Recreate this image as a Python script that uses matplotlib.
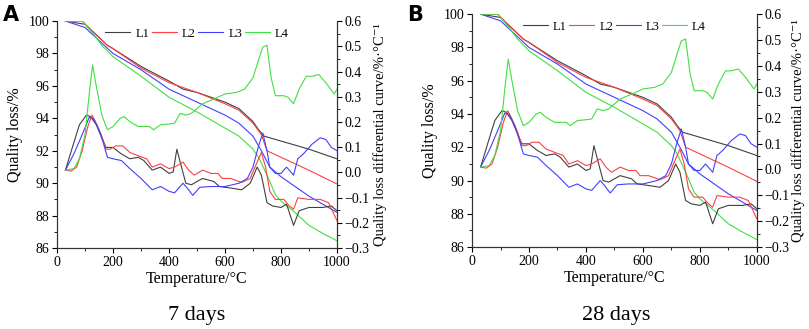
import matplotlib
matplotlib.use('Agg')
import matplotlib.pyplot as plt
from matplotlib.ticker import MultipleLocator, AutoMinorLocator

plt.rcParams['font.family'] = ['Liberation Serif', 'DejaVu Serif']

# TG curves (left axis, quality loss %)
t_l1 = [30, 100, 150, 180, 200, 300, 400, 450, 500, 600, 650, 700, 720, 740, 760, 800, 900, 1000]
tg_l1 = [100, 99.8, 99.0, 98.5, 98.3, 97.2, 96.3, 95.8, 95.6, 95.0, 94.6, 93.8, 93.3, 92.9, 92.8, 92.6, 92.1, 91.5]
t_l2 = [30, 90, 130, 180, 200, 300, 400, 450, 500, 600, 650, 700, 730, 750, 800, 900, 1000]
tg_l2 = [100, 100, 99.3, 98.5, 98.3, 97.1, 96.2, 95.9, 95.6, 94.9, 94.5, 93.7, 93.0, 92.0, 91.6, 90.8, 89.95]
t_l3 = [30, 100, 150, 200, 300, 400, 500, 600, 650, 700, 730, 760, 800, 900, 1000]
tg_l3 = [100, 99.6, 98.8, 98.0, 97.0, 95.8, 95.0, 94.2, 93.7, 92.9, 92.0, 91.0, 90.4, 89.2, 88.2]
t_l4 = [30, 90, 130, 160, 200, 300, 400, 500, 600, 650, 700, 720, 750, 780, 800, 850, 900, 950, 1000]
tg_l4 = [100, 100, 99.2, 98.5, 97.8, 96.6, 95.3, 94.4, 93.4, 92.9, 92.1, 91.6, 90.5, 89.3, 88.9, 88.2, 87.4, 86.9, 86.45]

# DTG curves (right axis, %/°C)
d_t1 = [30, 60, 80, 105, 120, 140, 160, 175, 200, 230, 260, 290, 310, 340, 370, 400, 415, 428, 440, 460,
        480, 500, 520, 560, 580, 620, 660, 690, 715, 730, 750, 770, 800, 820, 845, 865, 900, 950, 980, 1000]
dtg_l1 = [0.009, 0.118, 0.189, 0.227, 0.221, 0.189, 0.137, 0.099, 0.099, 0.073, 0.054, 0.060, 0.047, 0.009,
          0.021, -0.004, 0.002, 0.092, 0.041, -0.043, -0.049, -0.036, -0.024, -0.036, -0.056, -0.062, -0.069,
          -0.043, 0.021, -0.011, -0.120, -0.133, -0.139, -0.126, -0.210, -0.152, -0.139, -0.139, -0.133, -0.152]
d_t2 = [30, 50, 70, 90, 110, 125, 140, 160, 175, 190, 210, 235, 260, 290, 320, 340, 370, 400, 420, 450, 470,
        490, 520, 550, 575, 590, 620, 660, 690, 715, 730, 745, 760, 780, 810, 830, 845, 860, 900, 940, 970, 1000]
dtg_l2 = [0.009, 0.005, 0.021, 0.086, 0.182, 0.227, 0.195, 0.144, 0.092, 0.092, 0.105, 0.105, 0.079, 0.066,
          0.054, 0.021, 0.034, 0.015, 0.021, 0.041, 0.009, -0.011, 0.009, -0.004, -0.004, -0.024, -0.024,
          -0.040, -0.024, 0.041, 0.079, 0.021, -0.075, -0.107, -0.107, -0.133, -0.146, -0.101, -0.107,
          -0.107, -0.120, -0.191]
d_t3 = [30, 60, 90, 115, 130, 150, 165, 180, 200, 230, 260, 300, 340, 370, 400, 420, 450, 465, 485, 510, 550,
        600, 650, 680, 700, 720, 735, 750, 760, 780, 800, 820, 845, 860, 880, 910, 940, 960, 980, 1000]
dtg_l3 = [0.009, 0.073, 0.150, 0.218, 0.214, 0.169, 0.118, 0.060, 0.054, 0.047, 0.015, -0.024, -0.069,
          -0.056, -0.075, -0.081, -0.043, -0.062, -0.091, -0.059, -0.056, -0.056, -0.043, -0.024, 0.021,
          0.105, 0.156, 0.086, 0.021, -0.004, -0.004, 0.021, -0.011, 0.054, 0.073, 0.111, 0.137, 0.131,
          0.099, 0.086]
d_t4 = [30, 60, 80, 100, 115, 127, 140, 160, 180, 200, 225, 240, 260, 290, 330, 345, 370, 400, 420, 440, 460,
        480, 520, 560, 600, 640, 670, 700, 720, 735, 750, 765, 780, 810, 825, 845, 865, 890, 910, 935, 960,
        990, 1000]
dtg_l4 = [0.009, 0.015, 0.054, 0.150, 0.311, 0.426, 0.343, 0.227, 0.169, 0.182, 0.214, 0.221, 0.201, 0.182,
          0.182, 0.169, 0.189, 0.192, 0.195, 0.234, 0.227, 0.234, 0.272, 0.291, 0.311, 0.317, 0.330, 0.375,
          0.446, 0.497, 0.504, 0.375, 0.304, 0.304, 0.298, 0.272, 0.330, 0.381, 0.381, 0.388, 0.356, 0.311,
          0.330]

labels = ['L1', 'L2', 'L3', 'L4']
colors = ['#404040', '#ff4040', '#4040ff', '#40e040']
right_ticks = [-0.3, -0.2, -0.1, 0.0, 0.1, 0.2, 0.3, 0.4, 0.5, 0.6]
right_labels = ['\u22120.3', '\u22120.2', '\u22120.1', '0.0', '0.1', '0.2', '0.3', '0.4', '0.5', '0.6']

tg = [(t_l1, tg_l1), (t_l2, tg_l2), (t_l3, tg_l3), (t_l4, tg_l4)]
dtg = [(d_t1, dtg_l1), (d_t2, dtg_l2), (d_t3, dtg_l3), (d_t4, dtg_l4)]

fig = plt.figure(figsize=(8.09, 3.29), dpi=100)

panels = [
    ('A', '7 days', [0.0705, 0.246, 0.346, 0.690], (0.003, 0.985), (0.243, 0.012), 1.155),
    ('B', '28 days', [0.5835, 0.249, 0.352, 0.708], (0.503, 0.985), (0.762, 0.012), 1.145),
]

for letter, caption, rect, lpos, cpos, rlab_x in panels:
    ax = fig.add_axes(rect)
    ax2 = ax.twinx()
    lines = []
    for (x, y), c, lab in zip(tg, colors, labels):
        ln, = ax.plot(x, y, color=c, lw=0.8, label=lab)
        lines.append(ln)
    for (x, y), c in zip(dtg, colors):
        ax2.plot(x, y, color=c, lw=0.8)

    ax.set_xlim(0, 1000)
    ax.set_ylim(86, 100)
    ax2.set_ylim(-0.3, 0.6)
    ax.xaxis.set_major_locator(MultipleLocator(200))
    ax.xaxis.set_minor_locator(AutoMinorLocator(2))
    ax.yaxis.set_major_locator(MultipleLocator(2))
    ax.yaxis.set_minor_locator(AutoMinorLocator(2))
    ax2.set_yticks(right_ticks)
    ax2.set_yticklabels(right_labels)
    ax2.yaxis.set_minor_locator(AutoMinorLocator(2))
    for a in (ax, ax2):
        a.spines['top'].set_visible(False)
        for s in a.spines.values():
            s.set_linewidth(0.8)
            s.set_color('#333333')
        a.tick_params(which='major', direction='out', length=3.5, width=0.8, labelsize=10, pad=2)
        a.tick_params(which='minor', direction='out', length=2, width=0.6)

    ax.set_xlabel('Temperature/\u00b0C', fontsize=11.5, labelpad=2)
    ax.set_ylabel('Quality loss/%', fontsize=11.5, labelpad=4)
    ax2.set_ylabel('Quality loss differential curve/%\u00b7\u00b0C\u207b\u00b9', fontsize=10.5,
                   va='center', rotation=90)
    ax2.yaxis.set_label_coords(rlab_x, 0.5)
    ax.legend(handles=lines, ncol=4, frameon=False, loc='upper center', bbox_to_anchor=(0.5, 1.02),
              fontsize=9, handlelength=2.0, columnspacing=0.2, handletextpad=0.4)

    fig.text(lpos[0], lpos[1], letter, fontsize=15, fontweight='bold', family='DejaVu Sans', va='top')
    fig.text(cpos[0], cpos[1], caption, fontsize=16, ha='center', va='bottom')

fig.savefig('out.png', dpi=100)
